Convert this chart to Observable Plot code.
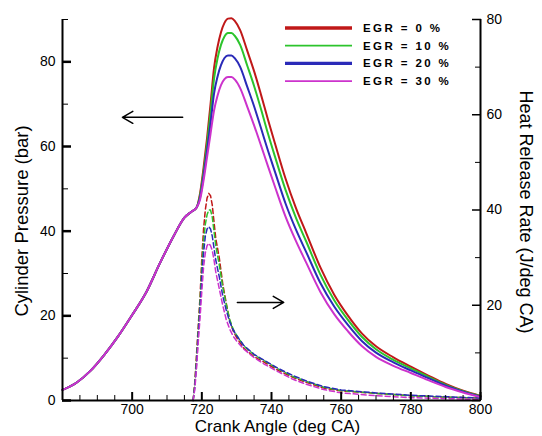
<!DOCTYPE html>
<html><head><meta charset="utf-8">
<script src="https://cdn.jsdelivr.net/npm/d3@7"></script>
<script src="https://cdn.jsdelivr.net/npm/@observablehq/plot@0.6"></script>
<style>body{margin:0;background:#fff;font-family:"Liberation Sans",Arial,sans-serif}</style>
</head><body><div id="chart"></div>
<script>
// ---- data ----
const seriesLabels = ["EGR = 0 %", "EGR = 10 %", "EGR = 20 %", "EGR = 30 %"];

// compression part (shared by all cases)
const crankCompression = [680, 684, 688, 692, 696, 700, 704, 708, 712, 715, 717, 718.5];
const pressureCompression = [2.5, 4.2, 7.0, 10.8, 15.2, 20.2, 25.5, 32.5, 39.0, 43.2, 44.6, 45.6];

// combustion / expansion part
const crankCombustion = [719.5, 720.5, 721.5, 722.5, 723.5, 724.5, 725.5, 726.5, 727.5, 728.5, 729.5, 731, 733, 735, 737, 739, 741, 744, 747, 750, 754, 758, 762, 766, 770, 775, 780, 785, 790, 795, 800];
const pressureEGR0  = [49, 55, 62, 70, 78.5, 83.5, 87, 89.2, 90.2, 90.3, 89.6, 87.5, 82.7, 77.8, 72.2, 66.3, 60.7, 52.5, 45.5, 39.5, 31.5, 25, 20, 15.8, 12.8, 10.2, 8.0, 5.9, 3.9, 2.3, 1.1];
const pressureEGR10 = [48.5, 54, 60.5, 68, 76, 80.8, 84, 86, 86.8, 86.8, 86.1, 84, 79.2, 74.3, 68.8, 63, 57.6, 49.8, 43.2, 37.5, 29.8, 23.7, 19, 15.0, 12.1, 9.6, 7.6, 5.6, 3.7, 2.2, 1.0];
const pressureEGR20 = [48, 53, 59, 65.5, 72.5, 76.5, 79.2, 80.9, 81.5, 81.5, 80.8, 78.8, 74.2, 69.5, 64.3, 59, 54, 46.6, 40.4, 35, 27.8, 22.2, 17.8, 14.0, 11.3, 9.0, 7.1, 5.3, 3.5, 2.1, 0.9];
const pressureEGR30 = [47.5, 52, 57.5, 63, 68.5, 72, 74.5, 75.9, 76.4, 76.4, 75.8, 73.8, 69.5, 65, 60.2, 55.3, 50.5, 43.5, 37.7, 32.5, 25.7, 20.4, 16.3, 12.8, 10.3, 8.2, 6.5, 4.8, 3.2, 1.9, 0.8];

// heat release rate (J/deg CA)
const crankHRR = [717.5, 718, 718.5, 719, 719.5, 720, 720.5, 721, 721.5, 722, 722.5, 723, 723.5, 724, 725, 726, 727, 728, 729, 730, 732, 735, 738, 742, 746, 750, 755, 760, 770, 780, 790, 800];
const hrrEGR0  = [0, 4, 10, 16, 22, 30, 36, 40, 42.5, 43.5, 43, 41, 37.5, 34, 30, 24.5, 20.5, 16.8, 14.6, 13.2, 11, 9.2, 8, 6.3, 4.9, 3.8, 2.6, 2.0, 1.5, 1.0, 0.7, 0.5];
const hrrEGR10 = [0, 3.5, 9, 15, 21, 28, 33.5, 37, 39, 40, 40, 38.5, 35.5, 32.5, 28.5, 23.8, 20.2, 17.0, 15.0, 13.7, 11.5, 9.6, 8.3, 6.6, 5.1, 4.0, 2.8, 2.1, 1.5, 1.0, 0.7, 0.5];
const hrrEGR20 = [0, 3, 8, 14, 19.5, 26, 31, 34.5, 36, 36.5, 36, 34.5, 32, 29.5, 26, 22, 19, 16.5, 14.8, 13.6, 11.6, 9.7, 8.4, 6.7, 5.3, 4.1, 2.9, 2.2, 1.6, 1.1, 0.8, 0.5];
const hrrEGR30 = [0, 2.5, 7, 12.5, 17.5, 23, 28, 31, 32.5, 33, 32.5, 31.5, 29.5, 27, 23.5, 20, 17, 15, 13.5, 12.5, 10.8, 9.0, 7.6, 6.0, 4.5, 3.4, 2.3, 1.6, 1.0, 0.6, 0.4, 0.2];

// ticks
const xMajorTicks = [700, 720, 740, 760, 780, 800];
const xMinorTicks = [685, 690, 695, 705, 710, 715, 725, 730, 735, 745, 750, 755, 765, 770, 775, 785, 790, 795];
const pressureMajorTicks = [0, 20, 40, 60, 80];
const pressureMinorTicks = [10, 30, 50, 70, 90];
const hrrMajorTicks = [0, 20, 40, 60, 80];
const hrrLabeledTicks = [20, 40, 60, 80];
const hrrMinorTicks = [10, 30, 50, 70];

// annotation arrows (data coordinates: crank angle, pressure / HRR)
const arrowPressure = {x1: 714.5, x2: 697.2, p: 66.9};
const arrowHRR = {x1: 730.2, x2: 743.5, hrr: 20.6};

// ---- styles ----
const seriesColors = ["#c01818", "#2cc42c", "#2a2ab8", "#cc33cc"];
const legendWidths = [3.4, 1.8, 3.2, 1.8];

// ---- build tables ----
const pressureSeries = [pressureEGR0, pressureEGR10, pressureEGR20, pressureEGR30];
const hrrSeries = [hrrEGR0, hrrEGR10, hrrEGR20, hrrEGR30];
const pressureRows = [];
const hrrRows = [];
seriesLabels.forEach((s, i) => {
  crankCompression.forEach((c, j) => pressureRows.push({series: s, crank: c, p: pressureCompression[j]}));
  crankCombustion.forEach((c, j) => pressureRows.push({series: s, crank: c, p: pressureSeries[i][j]}));
  crankHRR.forEach((c, j) => hrrRows.push({series: s, crank: c, hrr: hrrSeries[i][j]}));
});

// right axis (0-80 J/deg CA) shares the plot height with the left axis (0-90 bar)
const hrrScale = 90 / 80;
const hy = v => v * hrrScale;

const font = "Liberation Sans, Arial, sans-serif";
const plot = Plot.plot({
  width: 542, height: 436,
  marginLeft: 62, marginRight: 62, marginTop: 19, marginBottom: 36,
  style: {fontFamily: font, fontSize: "14px", color: "#000", background: "#fff", overflow: "visible"},
  x: {domain: [680, 800], label: null},
  y: {domain: [0, 90], label: null},
  color: {domain: seriesLabels, range: seriesColors},
  marks: [
    Plot.line(hrrRows, {x: "crank", y: d => hy(d.hrr), z: "series", stroke: "series", strokeWidth: 1.5, strokeDasharray: "5,3"}),
    Plot.line(pressureRows, {x: "crank", y: "p", z: "series", stroke: "series", strokeWidth: 2, curve: "monotone-x"}),
    Plot.ruleX([680, 800], {stroke: "#000", strokeWidth: 2}),
    Plot.ruleY([0], {stroke: "#000", strokeWidth: 2}),
    // inward tick marks
    Plot.axisX(xMajorTicks, {tickSize: -8, strokeWidth: 2, tickFormat: () => ""}),
    Plot.axisX(xMinorTicks, {tickSize: -5, strokeWidth: 1, tickFormat: () => ""}),
    Plot.axisY(pressureMajorTicks, {anchor: "left", tickSize: -9, strokeWidth: 2.5, tickFormat: () => ""}),
    Plot.axisY(pressureMinorTicks, {anchor: "left", tickSize: -6, strokeWidth: 1, tickFormat: () => ""}),
    Plot.axisY(hrrMajorTicks.map(hy), {anchor: "right", tickSize: -9, strokeWidth: 1.5, tickFormat: () => ""}),
    Plot.axisY(hrrMinorTicks.map(hy), {anchor: "right", tickSize: -6, strokeWidth: 1, tickFormat: () => ""}),
    // tick labels
    Plot.axisX(xMajorTicks, {tickSize: 0, tickPadding: 4, fontSize: 14}),
    Plot.axisY(pressureMajorTicks, {anchor: "left", tickSize: 0, tickPadding: 7, fontSize: 14}),
    Plot.axisY(hrrLabeledTicks.map(hy), {anchor: "right", tickSize: 0, tickPadding: 6, fontSize: 14, tickFormat: v => String(Math.round(v / hrrScale))}),
    // axis titles
    Plot.text(["Cylinder Pressure (bar)"], {frameAnchor: "left", dx: -40, dy: 11, rotate: -90, fontSize: 18.5, textAnchor: "middle", lineAnchor: "middle"}),
    Plot.text(["Heat Release Rate (J/deg CA)"], {frameAnchor: "right", dx: 45, dy: 2, rotate: 90, fontSize: 18, textAnchor: "middle", lineAnchor: "middle"}),
    Plot.text(["Crank Angle (deg CA)"], {frameAnchor: "bottom", dx: 6, dy: 26, fontSize: 17, textAnchor: "middle", lineAnchor: "middle"}),
    // arrows
    Plot.arrow([arrowPressure], {x1: "x1", x2: "x2", y1: "p", y2: "p", stroke: "#000", strokeWidth: 1.5, headLength: 12}),
    Plot.arrow([arrowHRR], {x1: "x1", x2: "x2", y1: d => hy(d.hrr), y2: d => hy(d.hrr), stroke: "#000", strokeWidth: 1.5, headLength: 12})
  ]
});
document.getElementById("chart").appendChild(plot);

// legend (inside plot, top right)
const svg = d3.select(plot);
const lg = svg.append("g");
seriesLabels.forEach((s, i) => {
  const y = 28 + i * 17.7;
  lg.append("line").attr("x1", 285).attr("x2", 352).attr("y1", y).attr("y2", y)
    .attr("stroke", seriesColors[i]).attr("stroke-width", legendWidths[i]);
  lg.append("text").attr("x", 363).attr("y", y).attr("dy", "0.35em")
    .attr("text-anchor", "start")
    .attr("font-family", font).attr("font-size", 11.5).attr("font-weight", "bold")
    .attr("letter-spacing", "2.4px").attr("fill", "#000").text(s);
});
</script>
</body></html>
